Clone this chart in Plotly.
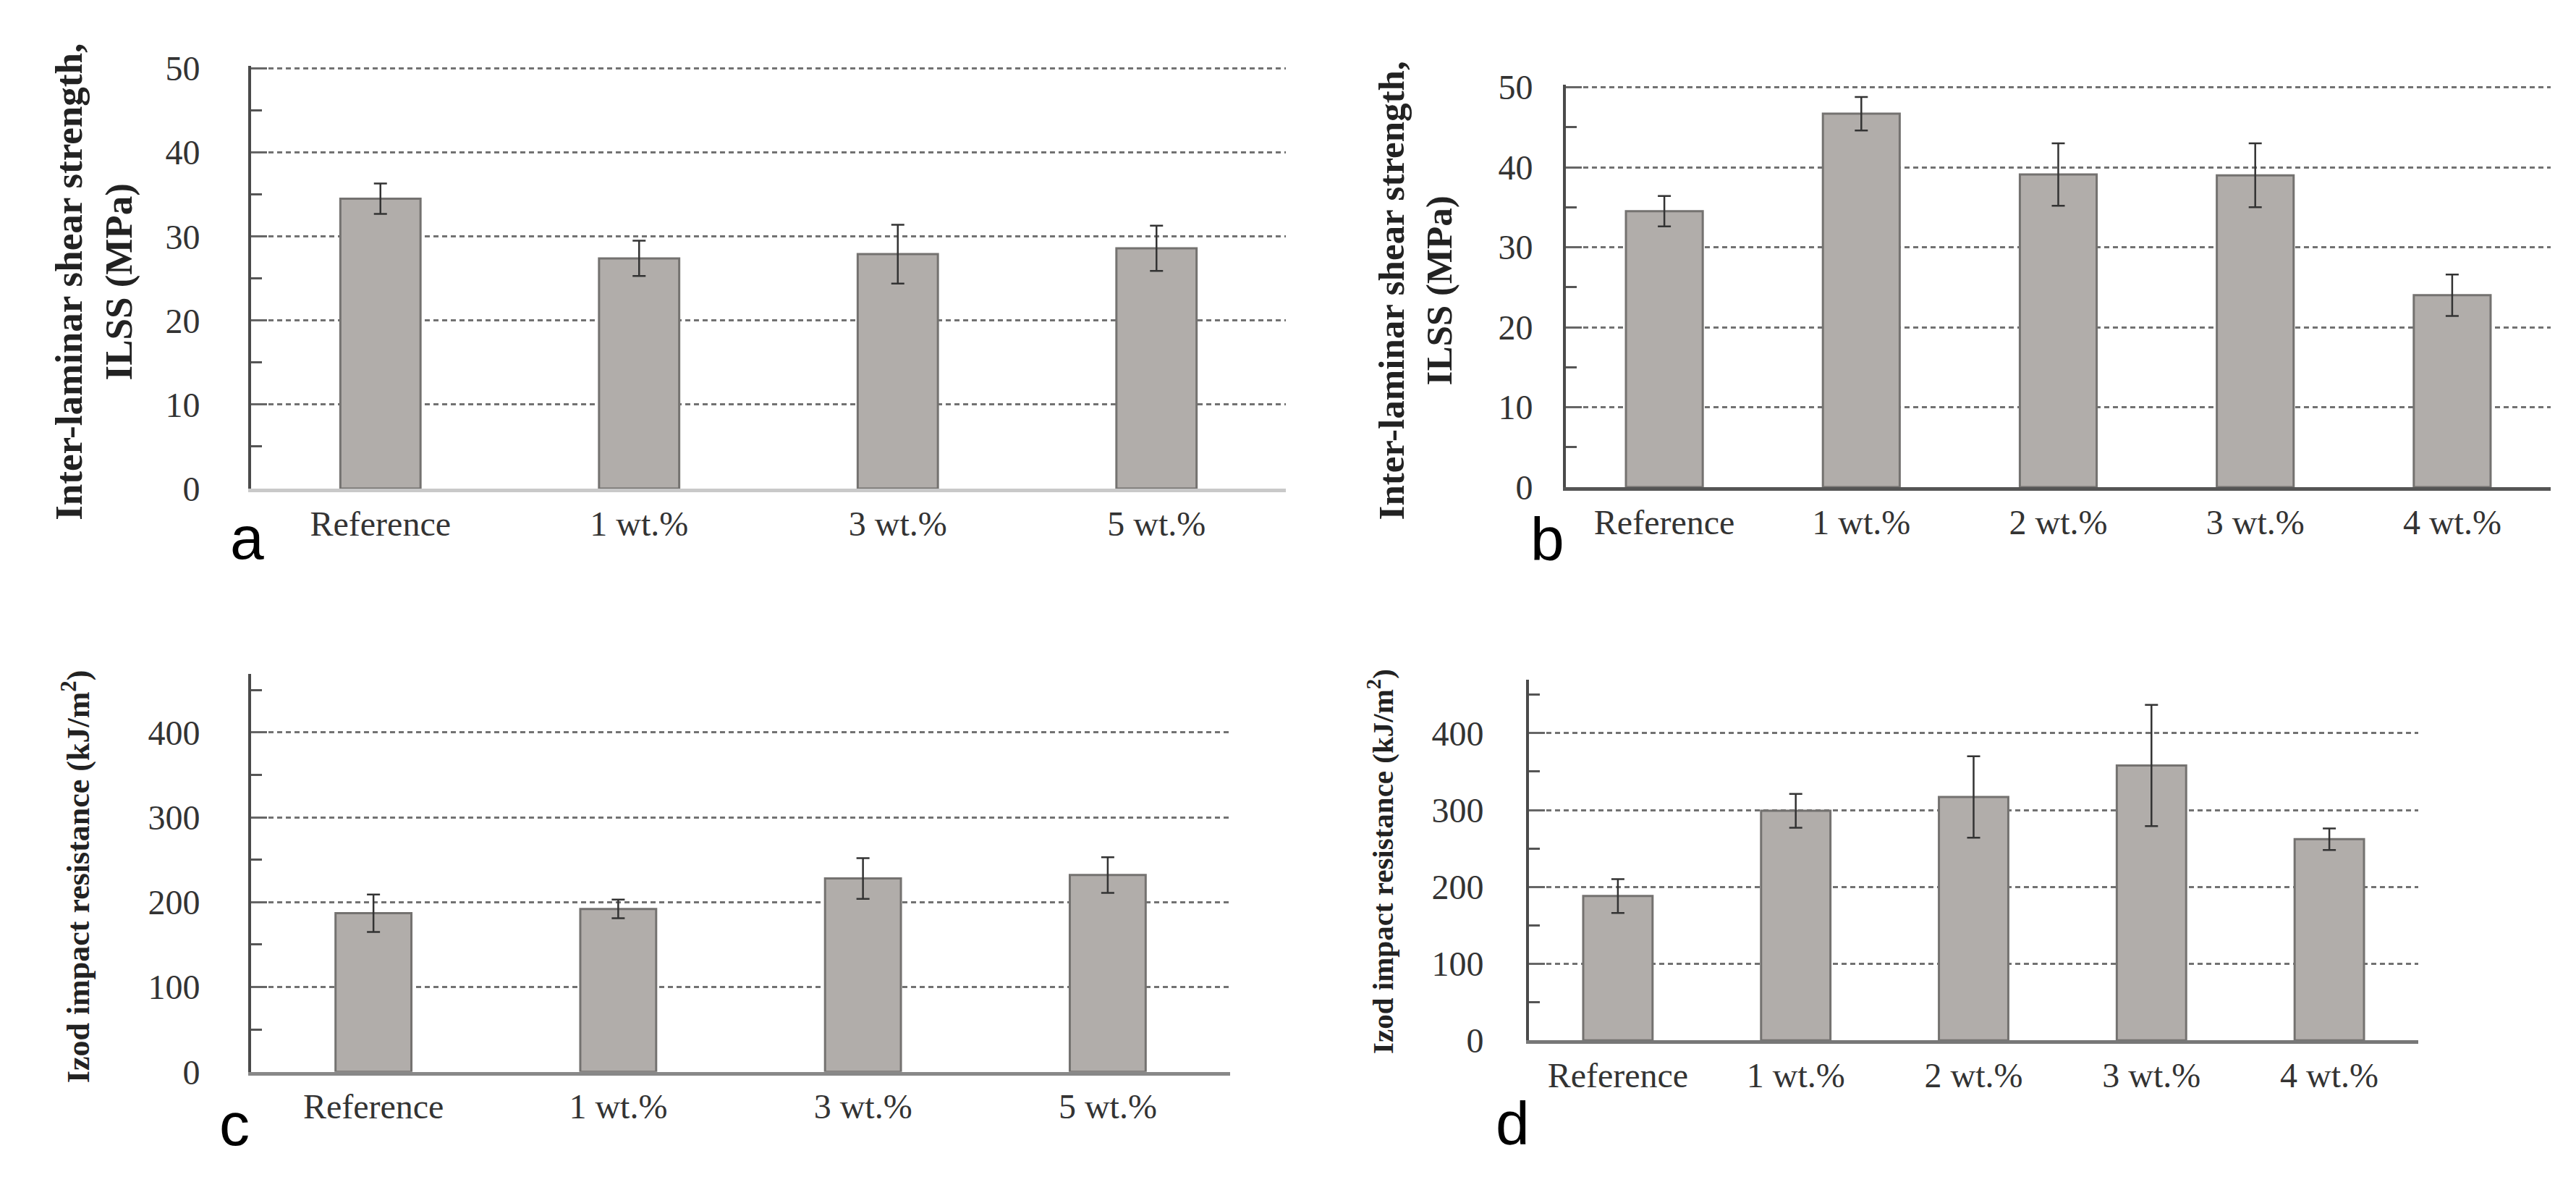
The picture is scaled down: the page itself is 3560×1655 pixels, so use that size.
import plotly.graph_objects as go
from plotly.subplots import make_subplots

# ── Data ──────────────────────────────────────────────────────────────────────
cats_4 = ["Reference", "1 wt.%", "3 wt.%", "5 wt.%"]
cats_5 = ["Reference", "1 wt.%", "2 wt.%", "3 wt.%", "4 wt.%"]

ilss_a = [34.5, 27.4, 27.9, 28.6]
ilss_a_err = [1.8, 2.1, 3.5, 2.7]

ilss_b = [34.5, 46.7, 39.1, 39.0, 24.0]
ilss_b_err = [1.9, 2.1, 3.9, 4.0, 2.6]

izod_c = [187, 192, 228, 232]
izod_c_err = [22, 11, 24, 21]

izod_d = [188, 299, 317, 358, 262]
izod_d_err = [22, 22, 53, 79, 14]

W, H = 3560, 1655
BAR_FILL = "#b1adaa"
BAR_LINE = "#747270"
SERIF = "Liberation Serif"


def px_x(a, b):
    return [a / W, b / W]


def px_y(top, bottom):
    return [1 - bottom / H, 1 - top / H]


fig = make_subplots(rows=2, cols=2)

panels = [
    # (row, col, cats, vals, errs, bar width, x domain, y domain, y range, dtick,
    #  x line colour, y label standoff)
    (1, 1, cats_4, ilss_a, ilss_a_err, 0.31, px_x(339, 1769), px_y(62, 664), [0, 50.3], 10, "#c9c9c9", 57),
    (1, 2, cats_5, ilss_b, ilss_b_err, 0.39, px_x(2156, 3517), px_y(89, 662), [0, 50.3], 10, "#555555", 32),
    (2, 1, cats_4, izod_c, izod_c_err, 0.31, px_x(339, 1692), px_y(928, 1495), [0, 469], 100, "#888888", 57),
    (2, 2, cats_5, izod_d, izod_d_err, 0.39, px_x(2105, 3334), px_y(936, 1450), [0, 470], 100, "#777777", 49),
]

for i, (r, c, cats, vals, errs, bw, xd, yd, yr, dt, xline, ystand) in enumerate(panels, start=1):
    fig.add_trace(go.Bar(
        x=cats, y=vals, width=bw,
        marker=dict(color=BAR_FILL, line=dict(color=BAR_LINE, width=3)),
        error_y=dict(type="data", array=errs, color="#333333", thickness=2.5, width=9),
        showlegend=False,
    ), row=r, col=c)
    sfx = "" if i == 1 else str(i)
    fig.layout["xaxis" + sfx].update(
        domain=xd, showline=True, linecolor=xline, linewidth=5,
        showgrid=False, ticks="", ticklabelstandoff=2,
        tickfont=dict(family=SERIF, size=48, color="#333333"),
    )
    fig.layout["yaxis" + sfx].update(
        domain=yd, range=yr, dtick=dt, showline=True, linecolor="#4a4a4a", linewidth=4,
        showgrid=True, gridcolor="#727272", gridwidth=3, griddash="7px,5px",
        zeroline=False, ticks="inside", ticklen=22, tickwidth=3, tickcolor="#666666",
        minor=dict(ticks="inside", ticklen=15, tickwidth=3, tickcolor="#555555",
                   dtick=dt / 2, showgrid=False),
        ticklabelstandoff=ystand,
        tickfont=dict(family=SERIF, size=48, color="#333333"),
    )

# ── Y-axis titles and panel letters ──────────────────────────────────────────
ilss_title = "Inter-laminar shear strength,<br>ILSS (MPa)"
izod_title = "Izod impact resistance (kJ/m<sup>2</sup>)"
titles = [
    (ilss_title, 122, 370, 53),
    (ilss_title, 1948, 382, 51),
    (izod_title, 97, 1217, 44),
    (izod_title, 1900, 1195, 41),
]
for text, x, y, size in titles:
    fig.add_annotation(
        text=text, x=x / W, y=1 - y / H, xref="paper", yref="paper",
        textangle=-90, showarrow=False, xanchor="center", yanchor="middle",
        font=dict(family=SERIF, size=size, color="#222222", weight="bold"),
    )

letters = [("a", 333, 763), ("b", 2130, 765), ("c", 316, 1598), ("d", 2082, 1597)]
for text, x, baseline in letters:
    fig.add_annotation(
        text=text, x=x / W, y=1 - (baseline - 29) / H, xref="paper", yref="paper",
        showarrow=False, xanchor="center", yanchor="middle",
        font=dict(family="Liberation Sans", size=84, color="#000000"),
    )

fig.update_layout(
    width=W, height=H,
    margin=dict(l=0, r=0, t=0, b=0),
    paper_bgcolor="white", plot_bgcolor="white",
    bargap=0.6,
)

fig.write_html("out.html")
